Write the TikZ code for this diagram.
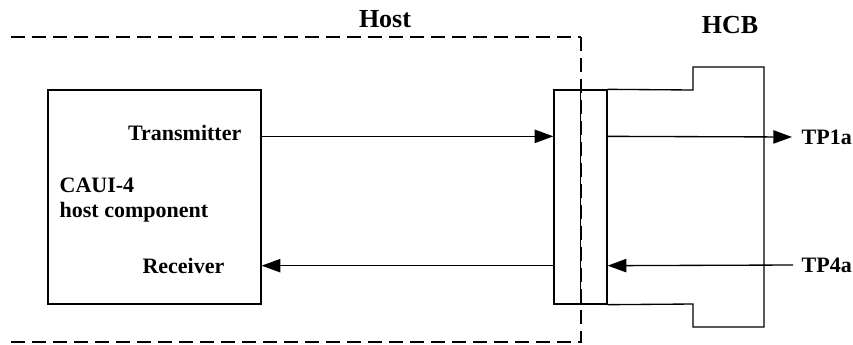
\documentclass[tikz,border=0pt]{standalone}
\usepackage{fontspec}
\setmainfont{Liberation Serif}
\usetikzlibrary{calc,arrows.meta}

\begin{document}
\begin{tikzpicture}[x=0.75pt,y=0.75pt,yscale=-1,xscale=1, line width=1pt,
    sig/.style={-{Triangle[length=14pt,width=10pt]}},
    lbl/.style={font=\fontsize{16.5}{18.75}\selectfont\bfseries, inner sep=0pt},
    hdr/.style={font=\fontsize{19.5}{23}\selectfont\bfseries, inner sep=0pt},
    hostdash/.style={dash pattern=on 10.5pt off 5.25pt}]
                \useasboundingbox (0,0) rectangle (853,344);
                %Shape: Host outline
                \draw [hostdash] (11,37) -- (581,37);
                \draw [hostdash] (581,37) -- (581,343);
                \draw [hostdash] (11,342) -- (581,342);
                \node [hdr] (host) at (385,19) {Host};
                %Shape: CAUI-4 box
                \node [draw, minimum width=159.75pt, minimum height=160.5pt, inner sep=0pt] (caui) at (154.5,197) {};
                \node [lbl, anchor=east] (txlbl) at (242,133) {Transmitter};
                \node [lbl, anchor=west, align=left] (cauilbl) at (59,200) {CAUI-4\\host component};
                \node [lbl, anchor=east] (rxlbl) at (225,266) {Receiver};
                %Shape: Connector
                \node [draw, minimum width=39.75pt, minimum height=160.5pt, inner sep=0pt] (conn) at (580.5,197) {};
                \draw [line width=1.4pt] (conn.north) -- (conn.south);
                %Shape: HCB outline
                \draw (conn.north east) -- (693,90) -- (693,67) -- (764,67) -- (764,327) -- (693,327) -- (693,304) -- (conn.south east);
                \node [hdr] (hcb) at (730,25) {HCB};
                \node [lbl, anchor=west] (tp1) at (801,137) {TP1a};
                \node [lbl, anchor=west] (tp4) at (801,265) {TP4a};
                %Signals
                \draw [sig] ($(caui.north east)+(0,47)$) -- ($(conn.north west)+(0,47)$);
                \draw [sig] ($(conn.north east)+(0,47)$) -- ($(tp1.west)+(-9,0)$);
                \draw [sig] ($(tp4.west)+(-8,0)$) -- ($(conn.south east)+(0,-39)$);
                \draw [sig] ($(conn.south west)+(0,-39)$) -- ($(caui.south east)+(0,-39)$);
        \end{tikzpicture}
\end{document}
